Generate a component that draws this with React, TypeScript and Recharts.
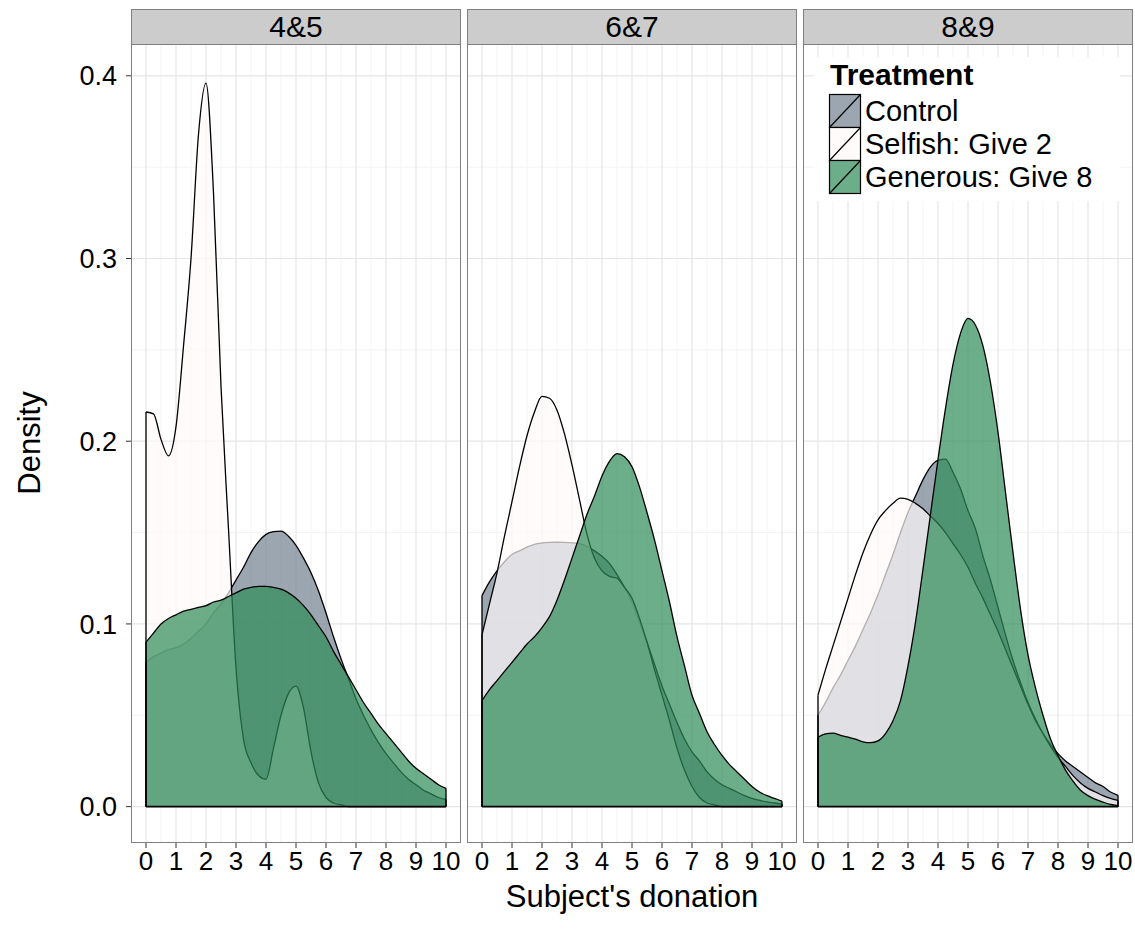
import React from 'react';
import { AreaChart, Area, XAxis, YAxis, CartesianGrid, ReferenceLine } from 'recharts';

// ---- data ----
const donation = [
  0, 0.25, 0.5, 0.75, 1, 1.25, 1.5, 1.75, 2, 2.25, 2.5, 2.75, 3, 3.25, 3.5, 3.75, 4, 4.25, 4.5, 4.75, 5,
  5.25, 5.5, 5.75, 6, 6.25, 6.5, 6.75, 7, 7.25, 7.5, 7.75, 8, 8.25, 8.5, 8.75, 9, 9.25, 9.5, 9.75, 10,
];
const panelLabels = ['4&5', '6&7', '8&9'];
const treatments = ['Control', 'Selfish: Give 2', 'Generous: Give 8'];
const xTicks = [0, 1, 2, 3, 4, 5, 6, 7, 8, 9, 10];
const xMinor = [0.5, 1.5, 2.5, 3.5, 4.5, 5.5, 6.5, 7.5, 8.5, 9.5];
const yTicks = [0, 0.1, 0.2, 0.3, 0.4];
const yMinor = [0.05, 0.15, 0.25, 0.35];

const control45 = [0.079, 0.082, 0.084, 0.086, 0.087, 0.089, 0.092, 0.096, 0.1, 0.106, 0.111, 0.117, 0.124, 0.131, 0.139, 0.145, 0.149, 0.1505, 0.1508, 0.148, 0.143, 0.136, 0.128, 0.118, 0.106, 0.093, 0.081, 0.07, 0.059, 0.05, 0.042, 0.035, 0.029, 0.024, 0.019, 0.015, 0.012, 0.009, 0.007, 0.005, 0.004];
const selfish45 = [0.216, 0.215, 0.201, 0.192, 0.208, 0.252, 0.3, 0.368, 0.396, 0.336, 0.23, 0.152, 0.076, 0.037, 0.024, 0.017, 0.015, 0.032, 0.05, 0.062, 0.066, 0.054, 0.03, 0.013, 0.005, 0.002, 0.001, 0, 0, 0, 0, 0, 0, 0, 0, 0, 0, 0, 0, 0, 0];
const generous45 = [0.09, 0.095, 0.1, 0.103, 0.105, 0.107, 0.108, 0.109, 0.11, 0.112, 0.113, 0.115, 0.117, 0.119, 0.12, 0.1205, 0.1206, 0.12, 0.119, 0.117, 0.114, 0.11, 0.105, 0.099, 0.093, 0.085, 0.078, 0.071, 0.064, 0.057, 0.051, 0.045, 0.04, 0.035, 0.03, 0.025, 0.021, 0.018, 0.015, 0.012, 0.01];

const control67 = [0.1155, 0.123, 0.129, 0.134, 0.138, 0.14, 0.142, 0.1436, 0.1443, 0.1446, 0.1447, 0.1446, 0.1444, 0.144, 0.1425, 0.14, 0.137, 0.133, 0.127, 0.12, 0.112, 0.101, 0.09, 0.078, 0.066, 0.056, 0.046, 0.037, 0.03, 0.025, 0.019, 0.015, 0.012, 0.01, 0.008, 0.006, 0.0045, 0.0035, 0.0026, 0.002, 0.0015];
const selfish67 = [0.094, 0.111, 0.128, 0.148, 0.167, 0.186, 0.203, 0.216, 0.2245, 0.2235, 0.217, 0.204, 0.187, 0.168, 0.149, 0.136, 0.129, 0.126, 0.125, 0.12, 0.114, 0.103, 0.09, 0.075, 0.061, 0.047, 0.032, 0.02, 0.011, 0.005, 0.002, 0.001, 0, 0, 0, 0, 0, 0, 0, 0, 0];
const generous67 = [0.058, 0.064, 0.069, 0.074, 0.079, 0.084, 0.089, 0.093, 0.098, 0.104, 0.113, 0.124, 0.136, 0.148, 0.16, 0.17, 0.181, 0.189, 0.1932, 0.1915, 0.186, 0.175, 0.161, 0.146, 0.129, 0.112, 0.093, 0.077, 0.061, 0.051, 0.041, 0.034, 0.028, 0.023, 0.019, 0.015, 0.011, 0.008, 0.006, 0.0045, 0.003];

const control89 = [0.05, 0.057, 0.065, 0.072, 0.08, 0.088, 0.097, 0.106, 0.116, 0.127, 0.138, 0.15, 0.161, 0.17, 0.179, 0.186, 0.1895, 0.1902, 0.183, 0.174, 0.162, 0.152, 0.137, 0.124, 0.109, 0.094, 0.08, 0.068, 0.057, 0.048, 0.04, 0.034, 0.029, 0.025, 0.022, 0.019, 0.016, 0.013, 0.011, 0.008, 0.0062];
const selfish89 = [0.061, 0.075, 0.088, 0.101, 0.114, 0.127, 0.139, 0.149, 0.157, 0.162, 0.166, 0.1688, 0.1682, 0.166, 0.163, 0.159, 0.155, 0.15, 0.144, 0.138, 0.131, 0.122, 0.114, 0.105, 0.096, 0.086, 0.076, 0.066, 0.056, 0.047, 0.04, 0.033, 0.027, 0.022, 0.017, 0.013, 0.01, 0.008, 0.006, 0.0045, 0.0034];
const generous89 = [0.038, 0.0398, 0.0402, 0.039, 0.038, 0.037, 0.0355, 0.035, 0.036, 0.04, 0.047, 0.058, 0.077, 0.101, 0.13, 0.16, 0.19, 0.218, 0.242, 0.259, 0.2672, 0.2635, 0.252, 0.232, 0.205, 0.172, 0.139, 0.108, 0.083, 0.065, 0.05, 0.037, 0.028, 0.02, 0.014, 0.009, 0.006, 0.004, 0.0025, 0.0012, 0.0005];

const panelSeries = [
  [control45, selfish45, generous45],
  [control67, selfish67, generous67],
  [control89, selfish89, generous89],
];

// ---- styling ----
const FILLS = ['#708090', '#FFFAFA', '#2E8B57'];
const KEYS = ['control', 'selfish', 'generous'];
const FONT = '"Liberation Sans", Arial, Helvetica, sans-serif';
const PANEL_LEFTS = [131, 467, 803];
const PANEL_W = 330;
const PANEL_TOP = 44;
const PANEL_H = 799;
const Y_W = 71;
const X_H = 50;
const Y_MIN = -0.0199;
const Y_MAX = 0.4174;
const BORDER = '#7f7f7f';
const KEY_STEP = 33;

function buildData(series: number[][]) {
  return donation.map((x, i) => ({
    x,
    control: series[0][i],
    selfish: series[1][i],
    generous: series[2][i],
  }));
}

function Panel({ idx }: { idx: number }) {
  const showY = idx === 0;
  const series = panelSeries[idx];
  const data = buildData(series);
  const width = showY ? Y_W + PANEL_W : PANEL_W;
  const left = showY ? PANEL_LEFTS[idx] - Y_W : PANEL_LEFTS[idx];
  const last = donation.length - 1;
  return (
    <div style={{ position: 'absolute', left, top: PANEL_TOP }}>
      <AreaChart width={width} height={PANEL_H + X_H} data={data} margin={{ top: 0, right: 0, bottom: 0, left: 0 }}>
        <CartesianGrid verticalValues={xMinor} horizontalValues={yMinor} stroke="#f3f3f3" strokeWidth={1} />
        <CartesianGrid verticalValues={xTicks} horizontalValues={yTicks} stroke="#e6e6e6" strokeWidth={1.2} />
        <XAxis
          dataKey="x"
          type="number"
          domain={[-0.5, 10.5]}
          allowDataOverflow
          ticks={xTicks}
          height={X_H}
          axisLine={false}
          tickSize={5}
          tickMargin={4}
          tickLine={{ stroke: '#333', strokeWidth: 1 }}
          tick={{ fontSize: 26, fill: '#000', fontFamily: FONT }}
          interval={0}
        />
        <YAxis
          type="number"
          domain={[Y_MIN, Y_MAX]}
          allowDataOverflow
          ticks={yTicks}
          width={Y_W}
          hide={!showY}
          axisLine={false}
          tickSize={5}
          tickMargin={9}
          tickLine={{ stroke: '#333', strokeWidth: 1 }}
          tick={{ fontSize: 27, fill: '#000', fontFamily: FONT }}
          tickFormatter={(v: number) => v.toFixed(1)}
          interval={0}
        />
        {KEYS.map((k, i) => (
          <Area
            key={k}
            type="monotone"
            dataKey={k}
            baseValue={0}
            stroke="#000"
            strokeWidth={1.3}
            fill={FILLS[i]}
            fillOpacity={0.7}
            isAnimationActive={false}
            dot={false}
            activeDot={false}
          />
        ))}
        {series.map((s, i) => (
          <ReferenceLine
            key={'l' + i}
            segment={[{ x: donation[0], y: 0 }, { x: donation[0], y: s[0] }]}
            stroke="#000"
            strokeWidth={1.3}
          />
        ))}
        {series.map((s, i) => (
          <ReferenceLine
            key={'r' + i}
            segment={[{ x: donation[last], y: 0 }, { x: donation[last], y: s[last] }]}
            stroke="#000"
            strokeWidth={1.3}
          />
        ))}
        <ReferenceLine
          segment={[{ x: donation[0], y: 0 }, { x: donation[last], y: 0 }]}
          stroke="#000"
          strokeWidth={1.6}
        />
      </AreaChart>
    </div>
  );
}

export default function App() {
  return (
    <div
      style={{
        position: 'absolute',
        left: 0,
        top: 0,
        width: 1135,
        height: 941,
        background: '#fff',
        fontFamily: FONT,
        overflow: 'hidden',
      }}
    >
      {panelLabels.map((_, i) => (
        <Panel key={i} idx={i} />
      ))}
      <svg
        width={1135}
        height={941}
        style={{ position: 'absolute', left: 0, top: 0, pointerEvents: 'none' }}
        fontFamily={FONT}
      >
        {panelLabels.map((lab, i) => (
          <g key={lab}>
            <rect x={PANEL_LEFTS[i] + 0.5} y={PANEL_TOP + 0.5} width={PANEL_W - 1} height={PANEL_H - 1} fill="none" stroke={BORDER} strokeWidth={1} />
            <rect x={PANEL_LEFTS[i] + 0.5} y={9.5} width={PANEL_W - 1} height={PANEL_TOP - 9} fill="#cccccc" stroke={BORDER} strokeWidth={1} />
            <text x={PANEL_LEFTS[i] + PANEL_W / 2} y={37} textAnchor="middle" fontSize={30} fill="#000">
              {lab}
            </text>
          </g>
        ))}
        {/* legend */}
        <rect x={814} y={57} width={306} height={144} fill="#fff" />
        <text x={830} y={85} fontSize={30} fontWeight="bold" fill="#000">
          Treatment
        </text>
        {treatments.map((t, i) => (
          <g key={t}>
            <rect x={829.5} y={94.5 + KEY_STEP * i} width={31} height={KEY_STEP} fill="#fff" stroke="none" />
            <rect x={829.5} y={94.5 + KEY_STEP * i} width={31} height={KEY_STEP} fill={FILLS[i]} fillOpacity={0.7} stroke="#000" strokeWidth={1.2} />
            <line x1={829.5} y1={94.5 + KEY_STEP * (i + 1)} x2={860.5} y2={94.5 + KEY_STEP * i} stroke="#000" strokeWidth={1.2} />
            <text x={865} y={121 + KEY_STEP * i} fontSize={29} fill="#000">
              {t}
            </text>
          </g>
        ))}
        {/* axis titles */}
        <text x={40} y={443} transform="rotate(-90 40 443)" textAnchor="middle" fontSize={31} fill="#000">
          Density
        </text>
        <text x={632} y={907} textAnchor="middle" fontSize={31} fill="#000">
          Subject's donation
        </text>
      </svg>
    </div>
  );
}
